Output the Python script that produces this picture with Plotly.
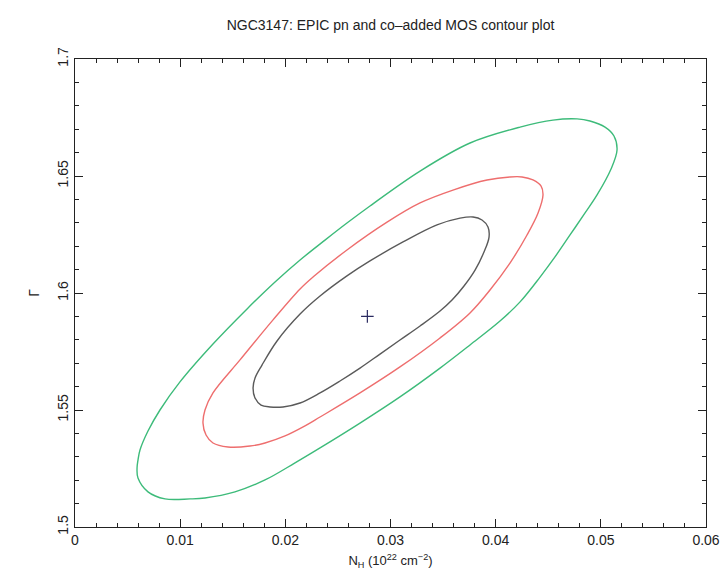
import plotly.graph_objects as go

# Best-fit position
best_nh = [0.0278]
best_gamma = [1.590]

# 1-sigma contour (black)
c1_nh = [0.01693, 0.01712, 0.01769, 0.01854, 0.01978, 0.02140, 0.02330, 0.02520, 0.02710, 0.02900,
         0.03090, 0.03281, 0.03471, 0.03585, 0.03699, 0.03804, 0.03889, 0.03937, 0.03927, 0.03870,
         0.03785, 0.03661, 0.03442, 0.03119, 0.02805, 0.02586, 0.02330, 0.02140, 0.01921, 0.01778,
         0.01712, 0.01693]
c1_gamma = [1.5594, 1.5551, 1.5521, 1.5513, 1.5513, 1.5530, 1.5573, 1.5624, 1.5679, 1.5739,
            1.5799, 1.5859, 1.5923, 1.5970, 1.6030, 1.6098, 1.6175, 1.6239, 1.6282, 1.6312,
            1.6325, 1.6320, 1.6291, 1.6218, 1.6137, 1.6073, 1.5987, 1.5910, 1.5795, 1.5692,
            1.5637, 1.5594]

# 2-sigma contour (red)
c2_nh = [0.01236, 0.01217, 0.01246, 0.01312, 0.01455, 0.01664, 0.01807, 0.01997, 0.02187, 0.02330,
         0.02710, 0.03090, 0.03471, 0.03756, 0.03946, 0.04136, 0.04298, 0.04403, 0.04450, 0.04432,
         0.04355, 0.04251, 0.04136, 0.03918, 0.03594, 0.03281, 0.02967, 0.02586, 0.02263, 0.02140,
         0.01883, 0.01569, 0.01312, 0.01236]
c2_gamma = [1.5500, 1.5444, 1.5393, 1.5359, 1.5342, 1.5346, 1.5359, 1.5389, 1.5432, 1.5470,
            1.5573, 1.5684, 1.5808, 1.5915, 1.6013, 1.6128, 1.6248, 1.6342, 1.6419, 1.6457,
            1.6483, 1.6496, 1.6496, 1.6483, 1.6440, 1.6385, 1.6303, 1.6184, 1.6068, 1.6017,
            1.5885, 1.5714, 1.5573, 1.5500]

# 3-sigma contour (green)
c3_nh = [0.00590, 0.00599, 0.00694, 0.00856, 0.01094, 0.01236, 0.01521, 0.01807, 0.02092, 0.02330,
         0.02710, 0.03090, 0.03471, 0.03756, 0.04041, 0.04232, 0.04422, 0.04564, 0.04707, 0.04850,
         0.04964, 0.05097, 0.05154, 0.05125, 0.05040, 0.04897, 0.04774, 0.04545, 0.04232, 0.03756,
         0.03281, 0.02805, 0.02586, 0.02377, 0.02140, 0.01902, 0.01636, 0.01312, 0.00998, 0.00808,
         0.00694, 0.00618, 0.00599, 0.00590]
c3_gamma = [1.5252, 1.5209, 1.5150, 1.5120, 1.5120, 1.5124, 1.5150, 1.5201, 1.5274, 1.5338,
            1.5444, 1.5556, 1.5679, 1.5778, 1.5880, 1.5962, 1.6068, 1.6154, 1.6248, 1.6342,
            1.6419, 1.6530, 1.6611, 1.6671, 1.6709, 1.6735, 1.6744, 1.6739, 1.6709, 1.6641,
            1.6521, 1.6372, 1.6299, 1.6226, 1.6141, 1.6047, 1.5932, 1.5782, 1.5620, 1.5500,
            1.5410, 1.5329, 1.5286, 1.5252]

x_ticks = [0, 0.01, 0.02, 0.03, 0.04, 0.05, 0.06]
x_tick_labels = ["0", "0.01", "0.02", "0.03", "0.04", "0.05", "0.06"]
y_ticks = [1.5, 1.55, 1.6, 1.65, 1.7]
y_tick_labels = ["1.5", "1.55", "1.6", "1.65", "1.7"]

FONT = "Liberation Sans, Arial, Helvetica, sans-serif"

fig = go.Figure()
for xs, ys, col in [(c3_nh, c3_gamma, "#3dbb7a"),
                    (c2_nh, c2_gamma, "#ee6e6e"),
                    (c1_nh, c1_gamma, "#5a5a5a")]:
    fig.add_trace(go.Scatter(x=xs, y=ys, mode="lines",
                             line=dict(color=col, width=1.4, shape="spline", smoothing=1.0),
                             hoverinfo="skip", showlegend=False))
fig.add_trace(go.Scatter(x=best_nh, y=best_gamma, mode="markers",
                         marker=dict(symbol="cross-thin", size=9,
                                     line=dict(color="#2a2a60", width=1.2)),
                         showlegend=False))

axis_common = dict(showgrid=False, zeroline=False, showline=True, linecolor="#222",
                   linewidth=1, mirror="allticks", ticks="inside", tickcolor="#222",
                   automargin=False,
                   tickfont=dict(family=FONT, size=14, color="#222"))

fig.update_xaxes(range=[0, 0.06], tickvals=x_ticks, ticktext=x_tick_labels,
                 ticklen=8, tickwidth=1,
                 minor=dict(ticks="inside", dtick=0.002, ticklen=4, tickcolor="#222", tickwidth=1),
                 title=dict(text="N<sub>H</sub> (10<sup>22</sup> cm<sup>−2</sup>)",
                            font=dict(family=FONT, size=13, color="#222"), standoff=10),
                 **axis_common)
fig.update_yaxes(range=[1.5, 1.7], tickvals=y_ticks, ticktext=y_tick_labels,
                 ticklen=8, tickwidth=1, tickangle=-90,
                 minor=dict(ticks="inside", dtick=0.01, ticklen=4, tickcolor="#222", tickwidth=1),
                 title=dict(text="Γ", font=dict(family=FONT, size=14, color="#222"), standoff=12),
                 **axis_common)

fig.update_layout(
    width=721, height=570,
    margin=dict(l=75, r=15, t=59, b=43),
    paper_bgcolor="white", plot_bgcolor="white",
    title=dict(text="NGC3147: EPIC pn and co–added MOS contour plot",
               font=dict(family=FONT, size=14, color="#222"),
               x=(75 + 706) / 2 / 721, xanchor="center", y=1 - 25 / 570, yanchor="middle"),
)

fig.write_html("out.html")
